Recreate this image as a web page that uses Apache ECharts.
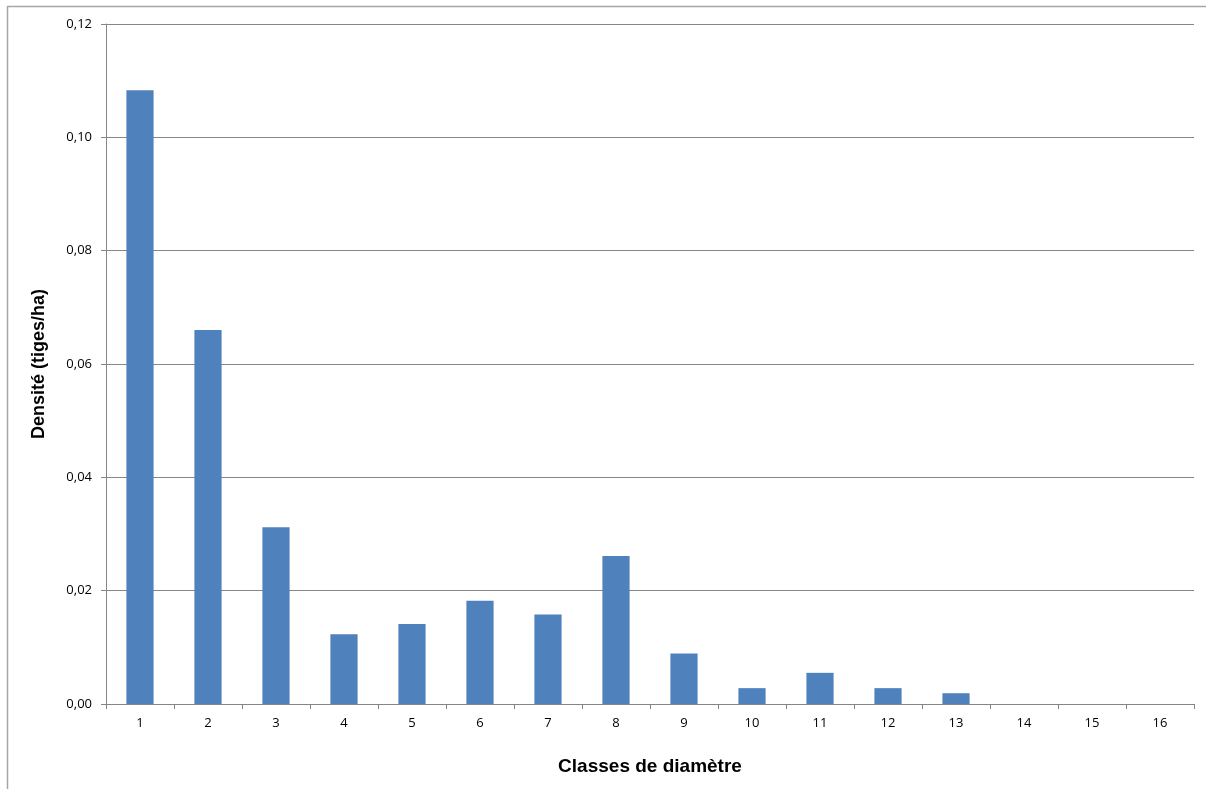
<!DOCTYPE html>
<html><head><meta charset="utf-8">
<script src="https://cdn.jsdelivr.net/npm/echarts@6/dist/echarts.min.js"></script>
<style>html,body{margin:0;padding:0;background:#fff}#c{width:1206px;height:789px}</style>
</head><body><div id="c"></div>
<script>
const categories = ['1','2','3','4','5','6','7','8','9','10','11','12','13','14','15','16'];
const densite = [0.1083, 0.0660, 0.0312, 0.0123, 0.0141, 0.0182, 0.0158, 0.0261, 0.0089, 0.0028, 0.0055, 0.0028, 0.0019, 0, 0, 0];
const yTicks = { min: 0, max: 0.12, interval: 0.02 };
const xTitle = 'Classes de diamètre';
const yTitle = 'Densité (tiges/ha)';

const chart = echarts.init(document.getElementById('c'));
chart.setOption({
  animation: false,
  graphic: [{ type: 'rect', shape: { x: 7.5, y: 6.5, width: 1220, height: 800 },
    style: { fill: 'none', stroke: '#a6a6a6', lineWidth: 1.5 }, silent: true }],
  grid: { left: 106, right: 12, top: 24, bottom: 85, containLabel: false },
  xAxis: {
    type: 'category', data: categories,
    name: xTitle, nameLocation: 'middle', nameGap: 53,
    nameTextStyle: { fontFamily: 'Liberation Sans', fontWeight: 'bold', fontSize: 19, color: '#000' },
    axisLine: { lineStyle: { color: '#868686', width: 1 } },
    axisTick: { show: true, length: 5, alignWithLabel: false, lineStyle: { color: '#868686' } },
    axisLabel: { fontFamily: 'Open Sans', fontSize: 13, color: '#000', margin: 13 }
  },
  yAxis: {
    type: 'value', min: yTicks.min, max: yTicks.max, interval: yTicks.interval,
    name: yTitle, nameLocation: 'middle', nameGap: 58,
    nameTextStyle: { fontFamily: 'Liberation Sans', fontWeight: 'bold', fontSize: 18, color: '#000' },
    axisLine: { show: true, lineStyle: { color: '#868686', width: 1 } },
    axisTick: { show: true, length: 5, lineStyle: { color: '#868686' } },
    splitLine: { lineStyle: { color: '#868686', width: 1 } },
    axisLabel: { fontFamily: 'Open Sans', fontSize: 13, color: '#000', margin: 14,
      formatter: v => v.toFixed(2).replace('.', ',') }
  },
  series: [{
    type: 'bar', data: densite, barCategoryGap: '60%',
    itemStyle: { color: '#4f81bd', borderWidth: 0 }
  }]
});
</script></body></html>
